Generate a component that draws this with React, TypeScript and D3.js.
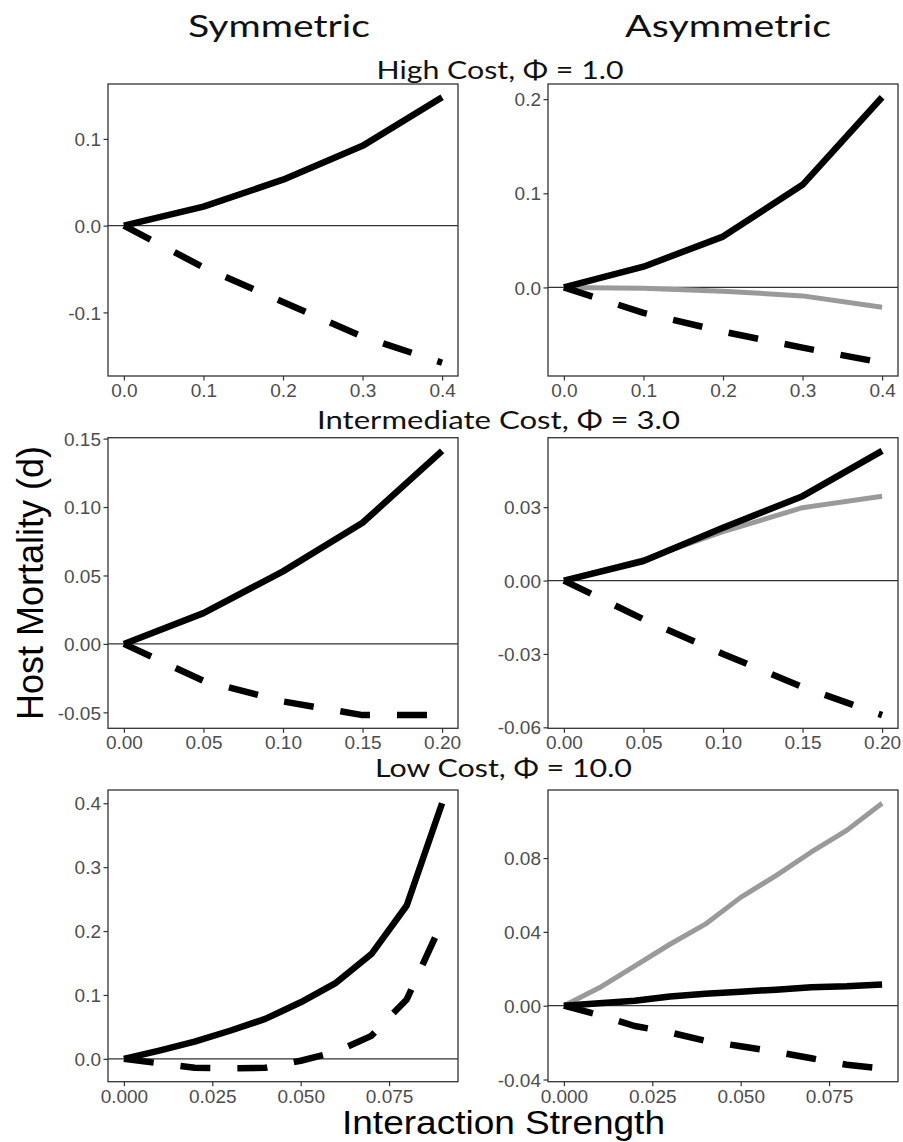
import * as d3 from 'd3';
import { useEffect, useRef } from 'react';

// interaction strength grids
const xHigh = [0, 0.1, 0.2, 0.3, 0.4];
const xInter = [0, 0.05, 0.1, 0.15, 0.2];
const xLow = [0, 0.01, 0.02, 0.03, 0.04, 0.05, 0.06, 0.07, 0.08, 0.09];

// high cost, phi = 1.0
const symHighSolid = [0, 0.022, 0.053, 0.092, 0.148];
const symHighDashed = [0, -0.048, -0.088, -0.128, -0.158];
const asyHighSolid = [0, 0.022, 0.054, 0.109, 0.202];
const asyHighGray = [0, -0.001, -0.004, -0.009, -0.021];
const asyHighDashed = [0, -0.027, -0.047, -0.064, -0.080];

// intermediate cost, phi = 3.0
const symInterSolid = [0, 0.0225, 0.053, 0.0885, 0.141];
const symInterDashed = [0, -0.027, -0.042, -0.052, -0.052];
const asyInterSolid = [0, 0.008, 0.0216, 0.0345, 0.053];
const asyInterGray = [0, 0.0085, 0.020, 0.0298, 0.0345];
const asyInterDashed = [0, -0.0158, -0.030, -0.0435, -0.055];

// low cost, phi = 10.0
const symLowSolid = [0, 0.013, 0.027, 0.044, 0.0625, 0.0885, 0.119, 0.164, 0.24, 0.40];
const symLowDashed = [0, -0.007, -0.014, -0.015, -0.014, -0.003, 0.011, 0.036, 0.093, 0.214];
const asyLowGray = [0, 0.0097, 0.0215, 0.0333, 0.0442, 0.0587, 0.0705, 0.0833, 0.095, 0.1097];
const asyLowSolid = [0, 0.0013, 0.0027, 0.005, 0.0065, 0.0076, 0.0087, 0.010, 0.0105, 0.0115];
const asyLowDashed = [0, -0.005, -0.011, -0.0145, -0.019, -0.022, -0.025, -0.0285, -0.032, -0.034];

// tick values
const xTicksHigh = [0, 0.1, 0.2, 0.3, 0.4];
const xTicksInter = [0, 0.05, 0.1, 0.15, 0.2];
const xTicksLow = [0, 0.025, 0.05, 0.075];
const yTicksSymHigh = [-0.1, 0, 0.1];
const yTicksAsyHigh = [0, 0.1, 0.2];
const yTicksSymInter = [-0.05, 0, 0.05, 0.1, 0.15];
const yTicksAsyInter = [-0.06, -0.03, 0, 0.03];
const yTicksSymLow = [0, 0.1, 0.2, 0.3, 0.4];
const yTicksAsyLow = [-0.04, 0, 0.04, 0.08];

const columnTitles = ['Symmetric', 'Asymmetric'];
const rowTitles = ['High Cost, \u03A6 = 1.0', 'Intermediate Cost, \u03A6 = 3.0', 'Low Cost, \u03A6 = 10.0'];

const panels = [
  { row: 0, col: 0, x: xHigh, xTicks: xTicksHigh, xFmt: '.1f', yTicks: yTicksSymHigh, yFmt: '.1f',
    series: [{ v: symHighSolid, kind: 'solid' }, { v: symHighDashed, kind: 'dashed' }] },
  { row: 0, col: 1, x: xHigh, xTicks: xTicksHigh, xFmt: '.1f', yTicks: yTicksAsyHigh, yFmt: '.1f',
    series: [{ v: asyHighGray, kind: 'gray' }, { v: asyHighSolid, kind: 'solid' }, { v: asyHighDashed, kind: 'dashed' }] },
  { row: 1, col: 0, x: xInter, xTicks: xTicksInter, xFmt: '.2f', yTicks: yTicksSymInter, yFmt: '.2f',
    series: [{ v: symInterSolid, kind: 'solid' }, { v: symInterDashed, kind: 'dashed' }] },
  { row: 1, col: 1, x: xInter, xTicks: xTicksInter, xFmt: '.2f', yTicks: yTicksAsyInter, yFmt: '.2f',
    series: [{ v: asyInterGray, kind: 'gray' }, { v: asyInterSolid, kind: 'solid' }, { v: asyInterDashed, kind: 'dashed' }] },
  { row: 2, col: 0, x: xLow, xTicks: xTicksLow, xFmt: '.3f', yTicks: yTicksSymLow, yFmt: '.1f',
    series: [{ v: symLowSolid, kind: 'solid' }, { v: symLowDashed, kind: 'dashed' }] },
  { row: 2, col: 1, x: xLow, xTicks: xTicksLow, xFmt: '.3f', yTicks: yTicksAsyLow, yFmt: '.2f',
    series: [{ v: asyLowGray, kind: 'gray' }, { v: asyLowSolid, kind: 'solid' }, { v: asyLowDashed, kind: 'dashed' }] },
];

const W = 903;
const H = 1142;
const colLeft = [108, 548];
const panelW = 350;
const rowTop = [84, 437.7, 790];
const panelH = [292, 290.6, 291.7];

function expand(lo, hi) {
  const pad = (hi - lo) * 0.05;
  return [lo - pad, hi + pad];
}

// ggplot prints a plain hyphen for negatives
function fmt(spec) {
  const f = d3.format(spec);
  return d => f(d).replace('\u2212', '-');
}

export default function App() {
  const svgRef = useRef(null);

  useEffect(() => {
    document.body.style.margin = '0';
    drawChart(svgRef.current);
  }, [svgRef]);

  return (
    <div>
      <svg ref={svgRef} width={W} height={H} style={{ display: 'block', background: '#fff' }}></svg>
    </div>
  );
}

function drawChart(node) {
  const svg = d3.select(node);
  svg.selectAll('*').remove();
  svg.append('rect').attr('width', W).attr('height', H).attr('fill', '#fff');

  panels.forEach(p => {
    const left = colLeft[p.col];
    const top = rowTop[p.row];
    const h = panelH[p.row];
    const allY = p.series.flatMap(s => s.v);

    const xScale = d3.scaleLinear()
      .domain(expand(d3.min(p.x), d3.max(p.x)))
      .range([left, left + panelW]);
    const yScale = d3.scaleLinear()
      .domain(expand(d3.min(allY), d3.max(allY)))
      .range([top + h, top]);

    const g = svg.append('g');

    // zero line
    g.append('line')
      .attr('x1', left).attr('x2', left + panelW)
      .attr('y1', yScale(0)).attr('y2', yScale(0))
      .attr('stroke', '#333').attr('stroke-width', 1.3);

    const line = d3.line()
      .x((d, i) => xScale(p.x[i]))
      .y(d => yScale(d));

    p.series.forEach(s => {
      g.append('path')
        .attr('d', line(s.v))
        .attr('fill', 'none')
        .attr('stroke', s.kind === 'gray' ? '#9a9a9a' : '#000')
        .attr('stroke-width', s.kind === 'gray' ? 5 : 6.5)
        .attr('stroke-linejoin', 'round')
        .attr('stroke-dasharray', s.kind === 'dashed' ? '30 27' : null);
    });

    // frame
    g.append('rect')
      .attr('x', left).attr('y', top)
      .attr('width', panelW).attr('height', h)
      .attr('fill', 'none').attr('stroke', '#333').attr('stroke-width', 1.3);

    const xAxis = d3.axisBottom(xScale)
      .tickValues(p.xTicks)
      .tickFormat(fmt(p.xFmt))
      .tickSize(4.5)
      .tickPadding(3);
    const yAxis = d3.axisLeft(yScale)
      .tickValues(p.yTicks)
      .tickFormat(fmt(p.yFmt))
      .tickSize(4.5)
      .tickPadding(2.5);

    const gx = g.append('g')
      .attr('transform', 'translate(0,' + (top + h) + ')')
      .call(xAxis);
    const gy = g.append('g')
      .attr('transform', 'translate(' + left + ',0)')
      .call(yAxis);

    [gx, gy].forEach(a => {
      a.select('.domain').remove();
      a.selectAll('.tick line').attr('stroke', '#333').attr('stroke-width', 1.2);
      a.selectAll('.tick text')
        .attr('fill', '#4d4d4d')
        .style('font-family', '"Liberation Sans", Arial, sans-serif')
        .style('font-size', '19px');
    });
    gx.selectAll('.tick text').attr('dy', '0.71em');
    gy.selectAll('.tick text').attr('dy', '0.35em');
  });

  const titleFont = 'Lato, "Open Sans", sans-serif';

  // column titles
  const colCenters = [279, 728];
  const colLens = [182, 206];
  columnTitles.forEach((t, i) => {
    svg.append('text')
      .attr('x', colCenters[i]).attr('y', 36.7)
      .attr('text-anchor', 'middle')
      .attr('textLength', colLens[i])
      .attr('lengthAdjust', 'spacingAndGlyphs')
      .style('font-family', titleFont)
      .style('font-size', '30px')
      .attr('fill', '#111')
      .text(t);
  });

  // row titles
  const rowCenters = [500, 498.5, 503.5];
  const rowBase = [79, 429.3, 777.3];
  const rowLens = [247, 363, 257];
  rowTitles.forEach((t, i) => {
    svg.append('text')
      .attr('x', rowCenters[i]).attr('y', rowBase[i])
      .attr('text-anchor', 'middle')
      .attr('textLength', rowLens[i])
      .attr('lengthAdjust', 'spacingAndGlyphs')
      .style('font-family', titleFont)
      .style('font-size', '25px')
      .attr('fill', '#111')
      .text(t);
  });

  // axis titles
  svg.append('text')
    .attr('transform', 'translate(43,583) rotate(-90)')
    .attr('text-anchor', 'middle')
    .style('font-family', '"Liberation Sans", Arial, sans-serif')
    .style('font-size', '36px')
    .attr('fill', '#000')
    .text('Host Mortality (d)');

  svg.append('text')
    .attr('x', 503.5).attr('y', 1134)
    .attr('text-anchor', 'middle')
    .attr('textLength', 323)
    .attr('lengthAdjust', 'spacingAndGlyphs')
    .style('font-family', '"Liberation Sans", Arial, sans-serif')
    .style('font-size', '34px')
    .attr('fill', '#000')
    .text('Interaction Strength');
}
